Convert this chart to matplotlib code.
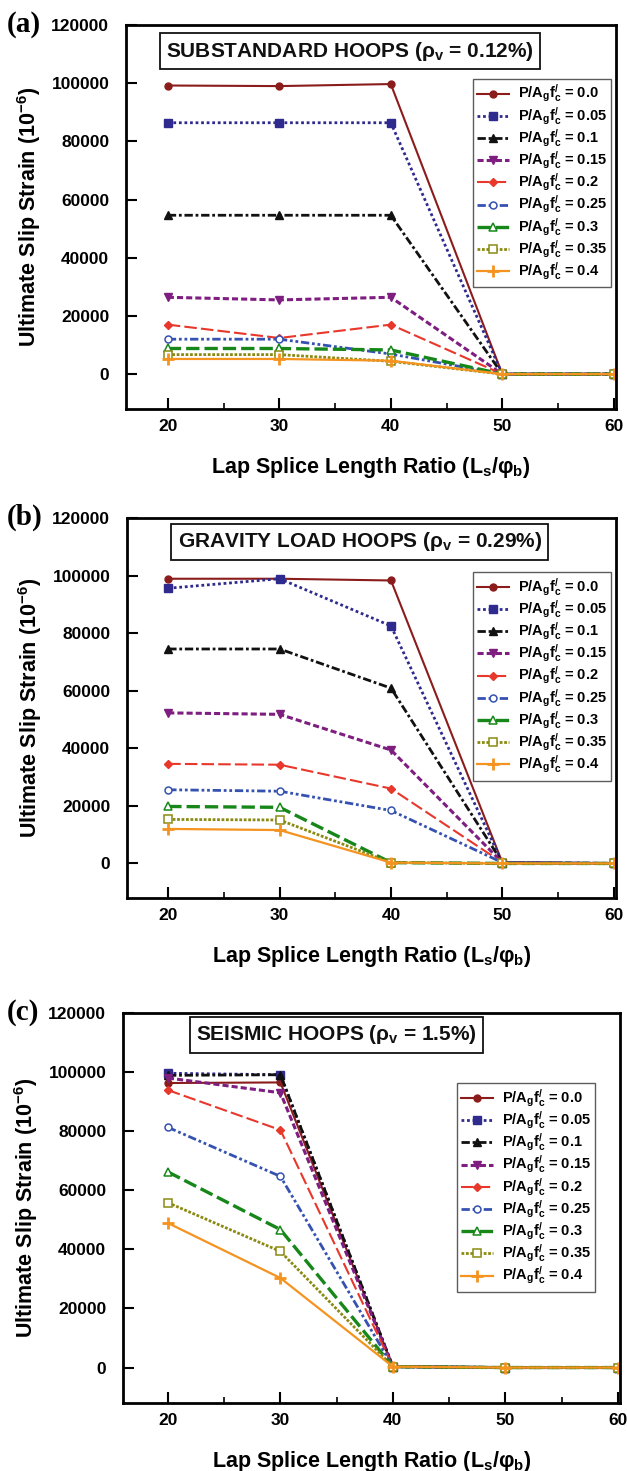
import matplotlib
matplotlib.use("Agg")
import matplotlib.pyplot as plt
from matplotlib.ticker import FixedLocator

plt.rcParams['font.family'] = ['Liberation Sans', 'DejaVu Sans']
plt.rcParams['font.weight'] = 'bold'
plt.rcParams['mathtext.fontset'] = 'custom'
plt.rcParams['mathtext.rm'] = 'Liberation Sans:bold'
plt.rcParams['mathtext.it'] = 'Liberation Sans:bold'
plt.rcParams['mathtext.bf'] = 'Liberation Sans:bold'
plt.rcParams['mathtext.sf'] = 'Liberation Sans:bold'
plt.rcParams['mathtext.default'] = 'rm'

# ---------------- data ----------------
x_ratio = [20, 30, 40, 50, 60]
axial_loads = ['0.0', '0.05', '0.1', '0.15', '0.2', '0.25', '0.3', '0.35', '0.4']

substandard = [
    [99200, 99000, 99700, 0, 0],
    [86400, 86400, 86400, 0, 0],
    [54600, 54600, 54600, 0, 0],
    [26400, 25500, 26400, 0, 0],
    [17000, 12400, 17000, 0, 0],
    [12000, 12000, 6900, 0, 0],
    [8800, 8800, 8300, 0, 0],
    [6700, 6700, 4400, 0, 0],
    [5200, 5200, 4600, 0, 0],
]
gravity = [
    [98900, 98900, 98300, 300, 0],
    [95600, 98900, 82500, 300, 0],
    [74500, 74500, 60900, 300, 0],
    [52300, 51800, 39400, 300, 0],
    [34600, 34300, 26000, 300, 0],
    [25600, 25100, 18400, 300, 0],
    [19800, 19500, 300, 0, 0],
    [15300, 15100, 300, 0, 0],
    [12000, 11600, 300, 0, 0],
]
seismic = [
    [96300, 96500, 300, 0, 0],
    [99600, 99100, 300, 0, 0],
    [98900, 99100, 300, 0, 0],
    [98000, 93000, 300, 0, 0],
    [93900, 80400, 300, 0, 0],
    [81300, 64700, 300, 0, 0],
    [66200, 46700, 300, 0, 0],
    [55800, 39300, 300, 0, 0],
    [48900, 30300, 300, 0, 0],
]

panel_titles = ['SUBSTANDARD HOOPS (ρ$_\\mathregular{v}$ = 0.12%)',
                'GRAVITY LOAD HOOPS (ρ$_\\mathregular{v}$ = 0.29%)',
                'SEISMIC HOOPS (ρ$_\\mathregular{v}$ = 1.5%)']
panel_letters = ['(a)', '(b)', '(c)']
y_ticks = [0, 20000, 40000, 60000, 80000, 100000, 120000]
x_ticks = [20, 30, 40, 50, 60]

# ---------------- styles ----------------
colors = ['#8b1c1c', '#2f2a8e', '#111111', '#7e1e80', '#e8372b',
          '#3552b0', '#17871a', '#8a8a12', '#f4931f']
styles = [
    dict(ls='-', lw=1.5, marker='o', ms=5, mfc=None),
    dict(ls=(0, (1, 1)), lw=2.0, marker='s', ms=5.5, mfc=None),
    dict(ls=(0, (3, 1, 1, 1)), lw=2.0, marker='^', ms=5.5, mfc=None),
    dict(ls=(0, (2, 1)), lw=2.2, marker='v', ms=6, mfc=None),
    dict(ls=(0, (6, 2)), lw=1.5, marker='D', ms=4, mfc=None),
    dict(ls=(0, (3, 1, 1, 1, 1, 1)), lw=2.0, marker='o', ms=5, mfc='white'),
    dict(ls=(0, (4, 1.5)), lw=2.4, marker='^', ms=5.5, mfc='white'),
    dict(ls=(0, (1, 0.6)), lw=2.0, marker='s', ms=6, mfc='white'),
    dict(ls='-', lw=1.6, marker='+', ms=8, mfc=None),
]

fig = plt.figure(figsize=(6.27, 14.71), dpi=100)

W, H = 627.0, 1471.0
boxes = [(126, 616, 25, 409), (127, 616, 518, 898), (123, 620, 1013, 1403)]
xlims = [(16.25, 60.2), (16.3, 60.2), (16.0, 60.2)]
title_pos = [(0.457, 0.932), (0.476, 0.937), (0.43, 0.944)]
leg_pos = [(0.99, 0.86), (0.99, 0.858), (0.95, 0.82)]
datasets = [substandard, gravity, seismic]

for i in range(3):
    l, r, t, b = boxes[i]
    ax = fig.add_axes([l / W, 1 - b / H, (r - l) / W, (b - t) / H])
    for j, lab in enumerate(axial_loads):
        st = styles[j]
        kw = dict(color=colors[j], ls=st['ls'], lw=st['lw'], marker=st['marker'],
                  ms=st['ms'], mec=colors[j])
        if st['mfc'] is not None:
            kw['mfc'] = st['mfc']
            kw['mew'] = 1.1
        else:
            kw['mfc'] = colors[j]
        if st['marker'] == '+':
            kw['mew'] = 2.0
        ax.plot(x_ratio, datasets[i][j],
                label='P/A$_\\mathregular{g}$f$_\\mathregular{c}^\\mathregular{/}$ = ' + lab,
                **kw)
    ax.set_xlim(*xlims[i])
    ax.set_ylim(-12000, 120000)
    ax.xaxis.set_major_locator(FixedLocator(x_ticks))
    ax.xaxis.set_minor_locator(FixedLocator([25, 35, 45, 55]))
    ax.yaxis.set_major_locator(FixedLocator(y_ticks))
    ax.tick_params(axis='both', which='major', direction='in', length=8, width=1.5,
                   labelsize=12.5, pad=7)
    ax.tick_params(axis='x', which='minor', direction='in', length=4, width=1.2)
    ax.tick_params(axis='y', which='major', pad=12)
    for sp in ax.spines.values():
        sp.set_linewidth(2.0)
    ax.set_ylabel('Ultimate Slip Strain (10$^{\\mathregular{-6}}$)', fontsize=15.5,
                  fontweight='bold', labelpad=6)
    ax.set_xlabel('Lap Splice Length Ratio (L$_\\mathregular{s}$/φ$_\\mathregular{b}$)',
                  fontsize=15.5, fontweight='bold', labelpad=15)
    ax.text(title_pos[i][0], title_pos[i][1], panel_titles[i], transform=ax.transAxes,
            ha='center', va='center', fontsize=15, fontweight='bold', color='#111111',
            bbox=dict(boxstyle='square,pad=0.3', fc='white', ec='#111111', lw=1.3))
    leg = ax.legend(loc='upper right', bbox_to_anchor=leg_pos[i], fontsize=10.5,
                    frameon=True, fancybox=False, edgecolor='#333333',
                    handlelength=2.2, labelspacing=0.0, borderpad=0.3,
                    handletextpad=0.6, borderaxespad=0.0)
    leg.get_frame().set_linewidth(1.0)
    fig.text(7 / W, 1 - (t - 1) / H, panel_letters[i], family='Liberation Serif',
             fontweight='bold', fontsize=21, ha='left', va='center')

fig.savefig('out.png', dpi=100)
